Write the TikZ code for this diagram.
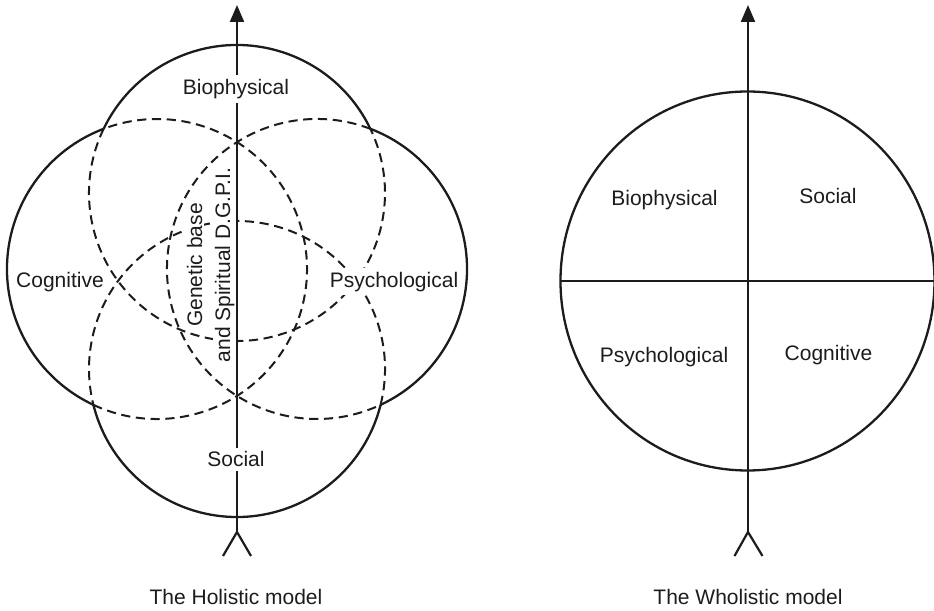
\documentclass[tikz,border=0pt]{standalone}
\usepackage{fontspec}
\setmainfont{Liberation Sans}
\usetikzlibrary{arrows.meta,calc}
\definecolor{ink}{HTML}{1C1C1C}
\begin{document}
\begin{tikzpicture}[x=0.5pt,y=0.5pt,
  every node/.style={font=\fontsize{10.5}{12.6}\selectfont, text=ink},
  solidarc/.style={draw=ink, line width=1.15pt},
  dasharc/.style={draw=ink, line width=1pt, dash pattern=on 4.6pt off 2.8pt},
  axisline/.style={draw=ink, line width=1.1pt},
  arrowaxis/.style={axisline, -{Triangle[length=8.5pt,width=7pt]}},
  tag/.style={fill=white, inner sep=2pt},
  sidetext/.style={fill=white, inner sep=0.8pt, rotate=90, anchor=base},
]
\useasboundingbox (0,0) rectangle (934,611);

% ---------- left figure: four overlapping spheres ----------
\coordinate (T) at (237,418);   % biophysical
\coordinate (B) at (237,242);   % social
\coordinate (L) at (157,342);   % cognitive
\coordinate (R) at (317,342);   % psychological

% hidden (inner) parts of each circle
\draw[dasharc] ([shift={(154.3:148)}]T) arc[start angle=154.3, end angle=385.7, radius=148];
\draw[dasharc] ([shift={(244.92:150)}]L) arc[start angle=244.92, end angle=470.84, radius=150];
\draw[dasharc] ([shift={(-14.01:148)}]B) arc[start angle=-14.01, end angle=194.01, radius=148];
\draw[dasharc] ([shift={(69.16:150)}]R) arc[start angle=69.16, end angle=295.08, radius=150];

% outer outline of the union
\draw[solidarc] ([shift={(25.7:148)}]T) arc[start angle=25.7, end angle=154.3, radius=148];
\draw[solidarc] ([shift={(110.84:150)}]L) arc[start angle=110.84, end angle=244.92, radius=150];
\draw[solidarc] ([shift={(194.01:148)}]B) arc[start angle=194.01, end angle=345.99, radius=148];
\draw[solidarc] ([shift={(-64.92:150)}]R) arc[start angle=-64.92, end angle=69.16, radius=150];

% core text along the axis
\node[sidetext] (gb1) at (202,346) {Genetic base};
\node[sidetext] (gb2) at (230,346) {and Spiritual D.G.P.I.};

% axis with fletching
\coordinate (hfoot) at (237,79);
\coordinate (htop) at (237,606);
\coordinate (hfl) at (223,55);
\coordinate (hfr) at (251,55);
\draw[arrowaxis] (hfoot) -- (htop);
\draw[axisline] (hfl) -- (hfoot) -- (hfr);

\node[tag] (hbio) at (236,522) {Biophysical};
\node[tag] (hcog) at (60,329.4) {Cognitive};
\node[tag] (hpsy) at (394,329.4) {Psychological};
\node[tag] (hsoc) at (236,151.6) {Social};
\node (hcap) at (236,13.6) {The Holistic model};

% ---------- right figure: one divided sphere ----------
\coordinate (W) at (747.5,330);
\draw[solidarc] (W) ellipse[x radius=187, y radius=189.5];
\coordinate (wl) at ($(W)+(-187,0)$);
\coordinate (wr) at ($(W)+(187,0)$);
\draw[axisline] (wl) -- (wr);

\coordinate (wfoot) at (748,79);
\coordinate (wtop) at (748,606);
\coordinate (wfl) at (734.5,55);
\coordinate (wfr) at (762.5,55);
\draw[arrowaxis] (wfoot) -- (wtop);
\draw[axisline] (wfl) -- (wfoot) -- (wfr);

\node (wbio) at (664.5,411.4) {Biophysical};
\node (wsoc) at (828,414.6) {Social};
\node (wpsy) at (664,254.4) {Psychological};
\node (wcog) at (828.5,256.4) {Cognitive};
\node (wcap) at (748,13.6) {The Wholistic model};
\end{tikzpicture}
\end{document}
